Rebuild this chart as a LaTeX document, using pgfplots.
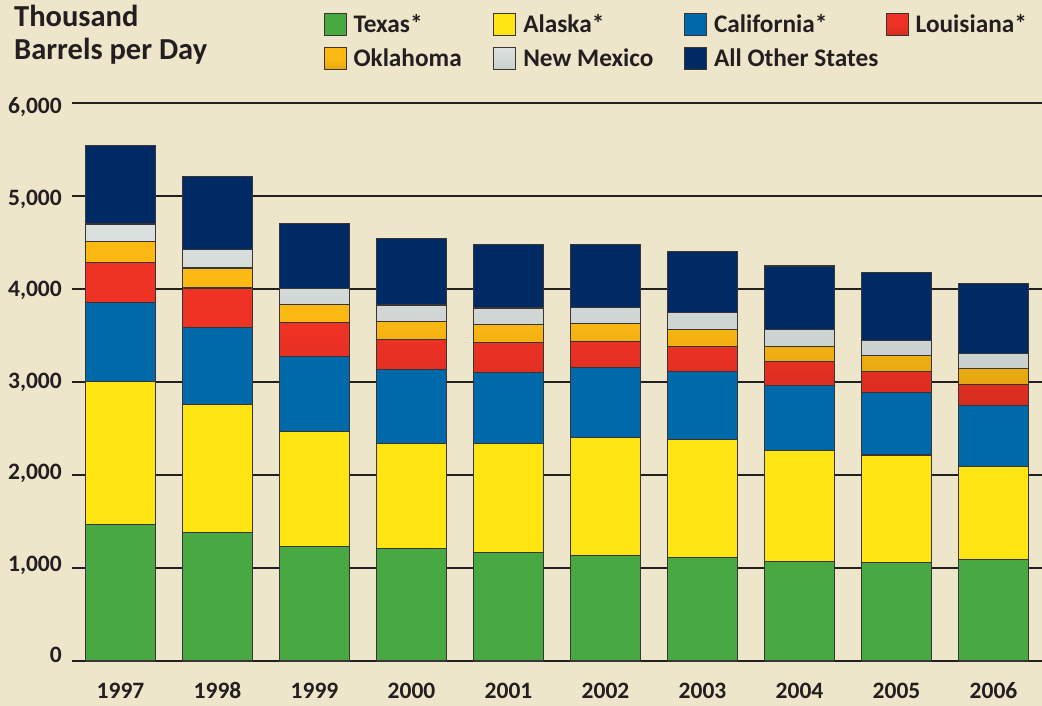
\documentclass[border=0pt]{standalone}
\usepackage{fontspec}
\setmainfont{Carlito}
\usepackage{pgfplots}
\usepackage{pgfplotstable}
\pgfplotsset{compat=1.18}
\definecolor{bg}{HTML}{EEE6CA}
\definecolor{txt}{HTML}{231F20}
\definecolor{cTX}{HTML}{48A942}
\definecolor{cAK}{HTML}{FFE512}
\definecolor{cCA}{HTML}{0069AA}
\definecolor{cLA}{HTML}{EE3224}
\definecolor{cOK}{HTML}{FDB913}
\definecolor{cNM}{HTML}{D4DBD9}
\definecolor{cOT}{HTML}{002A64}
\newcommand\LE[2]{\makebox[#1][l]{\hspace{7pt}#2}}

\pgfplotstableread{
x tx ak ca la ok nm ot
0 1471 1538 847 429 225 189 843
1 1386 1372 832 421 215 195 792
2 1231 1239 802 369 193 173 699
3 1212 1129 790 326 189 182 712
4 1169 1172 762 322 189 182 683
5 1133 1269 751 282 190 178 672
6 1113 1266 730 276 182 179 662
7 1070 1191 701 254 169 175 687
8 1063 1152 676 225 172 161 730
9 1088 1005 655 222 171 161 755
}\data

\begin{document}
\begin{tikzpicture}[x=1pt,y=1pt]
\fill[bg] (0,0) rectangle (1042,-706);
\begin{axis}[
  at={(72pt,-661pt)}, anchor=south west,
  scale only axis, width=970pt, height=558pt,
  xmin=-0.5, xmax=9.5, ymin=0, ymax=6000,
  clip=false,
  ybar stacked, bar width=70pt,
  axis line style={draw=none},
  major tick length=0pt,
  xtick={0,1,2,3,4,5,6,7,8,9},
  xticklabels={1997,1998,1999,2000,2001,2002,2003,2004,2005,2006},
  ytick={64.5,1047.4,2030.3,3013.2,3996.1,4979,5961.9},
  yticklabels={0,{1,000},{2,000},{3,000},{4,000},{5,000},{6,000}},
  extra y ticks={0,1000,2000,3000,4000,5000,6000},
  extra y tick labels={},
  extra y tick style={grid=major},
  major grid style={draw=txt, line width=1.8pt},
  ticklabel style={font=\fontsize{23.5}{26}\selectfont\bfseries, text=txt},
  yticklabel style={anchor=east, inner sep=0pt, xshift=-10pt, text height=14.9pt, text depth=0pt},
  xticklabel style={anchor=north, inner sep=0pt, yshift=-22pt, text height=14.9pt, text depth=0pt},
  every axis plot/.append style={draw=txt!90, line width=1.1pt},
  every axis plot post/.append style={legend image code/.code={\draw[#1, line width=1pt] (0pt,-11pt) rectangle (22pt,11pt);}},
  legend columns=4,
  legend cell align=left,
  legend style={at={(0.2593,1.1617)}, anchor=north west, draw=none, fill=none,
    inner sep=0pt, outer sep=0pt, column sep=0pt, row sep=11.5pt,
    font=\fontsize{25.3}{28}\selectfont\bfseries, text=txt,
    nodes={inner sep=0pt, text height=16.3pt, text depth=0pt}},
]
\addplot[fill=cTX] table[x=x,y=tx]{\data};
\addlegendentry{\LE{146.8pt}{Texas*}}
\addplot[fill=cAK] table[x=x,y=ak]{\data};
\addlegendentry{\LE{167.7pt}{Alaska*}}
\addplot[fill=cCA] table[x=x,y=ca]{\data};
\addlegendentry{\LE{178.7pt}{California*}}
\addplot[top color=cLA, bottom color=cLA!90!black, middle color=cLA] table[x=x,y=la]{\data};
\addlegendentry{\LE{130pt}{Louisiana*}}
\addplot[top color=cOK, bottom color=cOK!90!black, middle color=cOK] table[x=x,y=ok]{\data};
\addlegendentry{\LE{146.8pt}{Oklahoma}}
\addplot[top color=cNM!85!white, bottom color=cNM!95!black] table[x=x,y=nm]{\data};
\addlegendentry{\LE{167.7pt}{New Mexico}}
\addplot[fill=cOT] table[x=x,y=ot]{\data};
\addlegendentry{\LE{178.7pt}{All Other States}}
\end{axis}
\node[anchor=base west, inner sep=0pt, font=\fontsize{30.5}{33}\selectfont\bfseries, text=txt] at (14,-26.7) {Thousand};
\node[anchor=base west, inner sep=0pt, font=\fontsize{30.5}{33}\selectfont\bfseries, text=txt] at (14,-60) {Barrels per Day};
\pgfresetboundingbox
\useasboundingbox (0,0) rectangle (1042,-706);
\end{tikzpicture}
\end{document}
